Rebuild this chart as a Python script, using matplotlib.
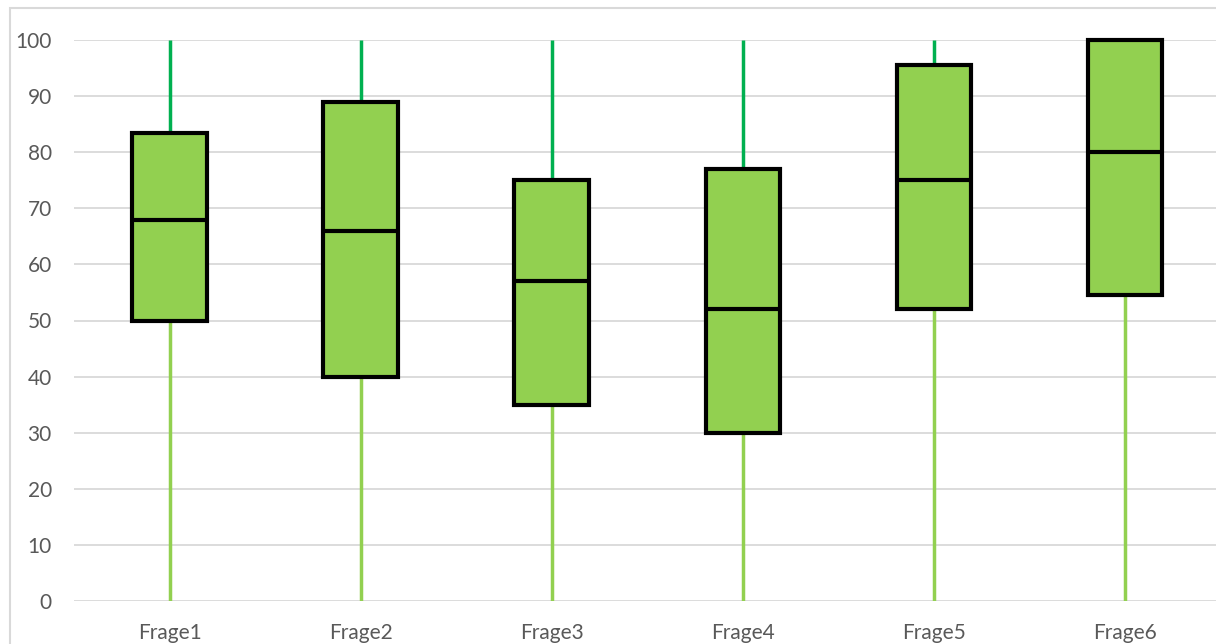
import matplotlib
matplotlib.use("Agg")
import matplotlib.pyplot as plt
from matplotlib.patches import Rectangle

plt.rcParams['font.family'] = ['Lato', 'DejaVu Sans']

# Werte
fragen = ["Frage1", "Frage2", "Frage3", "Frage4", "Frage5", "Frage6"]
minimum = [0, 0, 0, 0, 0, 0]
q1 = [50, 40, 35, 30, 52, 54.5]
median = [68, 66, 57, 52, 75, 80]
q3 = [83.5, 89, 75, 77, 95.5, 100]
maximum = [100, 100, 100, 100, 100, 100]
y_ticks = list(range(0, 101, 10))

box_green = "#92D050"
upper_green = "#00B050"
grid_grey = "#D9D9D9"
text_grey = "#595959"

W, H = 1216, 644
fig = plt.figure(figsize=(W / 100, H / 100), dpi=100)
ax = fig.add_axes([74 / W, (H - 601) / H, (1220.5 - 74) / W, (601 - 40) / H])

stats = []
for i, name in enumerate(fragen):
    stats.append(dict(label=name, whislo=minimum[i], q1=q1[i], med=median[i],
                      q3=q3[i], whishi=maximum[i], fliers=[]))

res = ax.bxp(stats, positions=range(1, len(fragen) + 1), widths=0.39,
             showcaps=False, showfliers=False, patch_artist=True,
             boxprops=dict(facecolor=box_green, edgecolor="black", linewidth=3),
             medianprops=dict(color="black", linewidth=3),
             whiskerprops=dict(linewidth=2.5))

for box in res["boxes"]:
    box.set_zorder(3)
    box.set_clip_on(False)
    box.set_joinstyle("miter")
for med in res["medians"]:
    med.set_zorder(4)
    med.set_clip_on(False)
for k, wh in enumerate(res["whiskers"]):
    wh.set_color(box_green if k % 2 == 0 else upper_green)
    wh.set_zorder(2)
    wh.set_solid_capstyle("butt")

ax.set_xlim(0.5, len(fragen) + 0.5)
ax.set_ylim(0, 100)
ax.set_yticks(y_ticks)
ax.yaxis.grid(True, color=grid_grey, linewidth=1.3)
ax.set_axisbelow(True)
for s in ax.spines.values():
    s.set_visible(False)
ax.tick_params(axis="both", length=0, labelsize=15, colors=text_grey)
ax.tick_params(axis="y", pad=16)
ax.tick_params(axis="x", pad=16)

# Rahmen um den Diagrammbereich
fig.patches.append(Rectangle((10 / W, -0.1), 2, (H - 8) / H + 0.1,
                             transform=fig.transFigure, fill=False,
                             edgecolor=grid_grey, linewidth=1.5))

fig.savefig("out.png", dpi=100)
